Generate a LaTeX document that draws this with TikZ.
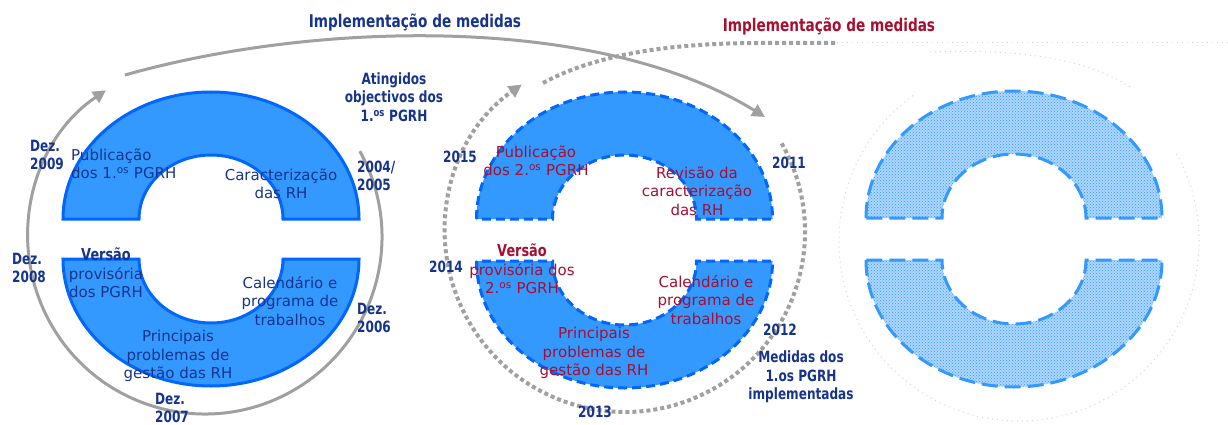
\documentclass[tikz,border=0pt]{standalone}
\usepackage{fontspec}
\setmainfont{DejaVu Sans}
\newfontfamily\condfont[FakeStretch=0.78]{DejaVu Sans}
\usepackage{tikz}
\usetikzlibrary{positioning}
\usetikzlibrary{calc,arrows.meta}
\usetikzlibrary{patterns}

\definecolor{ringfill}{RGB}{51,153,255}
\definecolor{ringedge}{RGB}{0,102,255}
\definecolor{txtblue}{RGB}{22,52,140}
\definecolor{txtred}{RGB}{168,14,48}
\definecolor{arrowgray}{RGB}{160,160,160}

\begin{document}
\begin{tikzpicture}[x=1pt,y=-1pt,
  lbl/.style={inner sep=0pt, align=center, text=txtblue, font=\fontsize{15}{18.5}\selectfont},
  redlbl/.style={lbl, text=txtred},
  yr/.style={inner sep=0pt, align=left, text=txtblue, font=\condfont\bfseries\fontsize{15.5}{18.5}\selectfont},
  hd/.style={inner sep=0pt, font=\condfont\bfseries\fontsize{17.5}{20}\selectfont},
  solidring/.style={fill=ringfill, draw=ringedge, line width=3pt},
  dashring/.style={fill=ringfill, draw=ringedge, line width=3pt, dash pattern=on 9pt off 5pt},
  hatchring/.style={preaction={fill=ringfill!40}, pattern=crosshatch dots, pattern color=ringfill, draw=ringfill, line width=3pt, dash pattern=on 16pt off 7pt},
  cycleline/.style={draw=arrowgray, line width=3pt, -{Triangle[length=13pt,width=13pt]}},
  dotline/.style={draw=arrowgray, line width=4pt, dash pattern=on 4pt off 3pt},
  ghost/.style={draw=arrowgray!45, line width=1pt, dash pattern=on 1pt off 4pt}]

\useasboundingbox (0,0) rectangle (1228,425);

% Define parameters
\pgfmathsetmacro{\orx}{148}
\pgfmathsetmacro{\ory}{127}
\pgfmathsetmacro{\irx}{72}
\pgfmathsetmacro{\iry}{64}

% Draw faint ghost cycle around the third ring
\draw[ghost] (1019,241) ++(-29:180) arc[start angle=-29, end angle=234, radius=180];
\draw[ghost] (837,43) -- (1228,43);
\draw[ghost] (930,52) .. controls (1020,48) and (1090,60) .. (1130,87);

% Draw second cycle (dotted) and its outgoing arrow
\draw[dotline, -{Triangle[length=13pt,width=13pt]}] (625,232) ++(-29.5:180) arc[start angle=-29.5, end angle=235, radius=180];
\draw[dotline] (543,83) .. controls (600,52) and (680,43) .. (760,43) -- (837,43);

% Draw first cycle and the arrow to the second one
\draw[cycleline] (205,237) ++(-29:177) arc[start angle=-29, end angle=236, radius=177];
\draw[cycleline] (125,75) .. controls (320,20) and (600,15) .. (765,117);

% Draw the three rings, top and bottom halves
\foreach \cx/\ty/\by/\st in {211/219/259/solidring, 624.5/219/261/dashring, 1014/218/260/hatchring}{
  \path[\st] ({\cx-\orx},\ty) arc[start angle=180, end angle=360, x radius=\orx, y radius=\ory]
    -- ({\cx+\irx},\ty) arc[start angle=0, end angle=-180, x radius=\irx, y radius=\iry] -- cycle;
  \path[\st] ({\cx-\orx},\by) arc[start angle=180, end angle=0, x radius=\orx, y radius=\ory]
    -- ({\cx+\irx},\by) arc[start angle=0, end angle=180, x radius=\irx, y radius=\iry] -- cycle;
}

% Headings
\node[hd, text=txtblue] (impl1) at (415,23) {Implementação de medidas};
\node[hd, text=txtred] (impl2) at (829,27) {Implementação de medidas};

% First ring labels
\node[lbl, align=left, anchor=west] (pub1) at (71,164) {Publicação\\dos 1.\textsuperscript{os} PGRH};
\node[lbl] (car1) at (281,184) {Caracterização\\das RH};
\node[lbl] (ver1) at (106,273) {{\condfont\bfseries\fontsize{16.5}{18.5}\selectfont Versão}\\provisória\\dos PGRH};
\node[lbl] (cal1) at (290,301) {Calendário e\\programa de\\trabalhos};
\node[lbl] (pri1) at (178,356) {Principais\\problemas de\\gestão das RH};

% First cycle dates
\node[yr, anchor=west] (d2009) at (30,155) {Dez.\\2009};
\node[yr, anchor=west] (d2004) at (357,176) {2004/\\2005};
\node[yr, anchor=west] (d2008) at (12,268) {Dez.\\2008};
\node[yr, anchor=west] (d2006) at (357,318) {Dez.\\2006};
\node[yr, anchor=west] (d2007) at (155,408) {Dez.\\2007};
\node[yr, align=center] (ating) at (394,97) {Atingidos\\objectivos dos\\1.\textsuperscript{os} PGRH};

% Second ring labels
\node[redlbl] (pub2) at (536,161) {Publicação\\dos 2.\textsuperscript{os} PGRH};
\node[redlbl] (rev2) at (697,191) {Revisão da\\caracterização\\das RH};
\node[redlbl] (ver2) at (522,269) {{\condfont\bfseries\fontsize{16.5}{18.5}\selectfont Versão}\\provisória dos\\2.\textsuperscript{os} PGRH};
\node[redlbl] (cal2) at (706,300) {Calendário e\\programa de\\trabalhos};
\node[redlbl] (pri2) at (594,353) {Principais\\problemas de\\gestão das RH};

% Second cycle dates
\node[yr] (y2015) at (460,157) {2015};
\node[yr] (y2011) at (789,163) {2011};
\node[yr] (y2014) at (446,267) {2014};
\node[yr] (y2012) at (780,330) {2012};
\node[yr] (y2013) at (595,412) {2013};
\node[yr, align=center] (med) at (801,377) {Medidas dos\\1.os PGRH\\implementadas};

\end{tikzpicture}
\end{document}
